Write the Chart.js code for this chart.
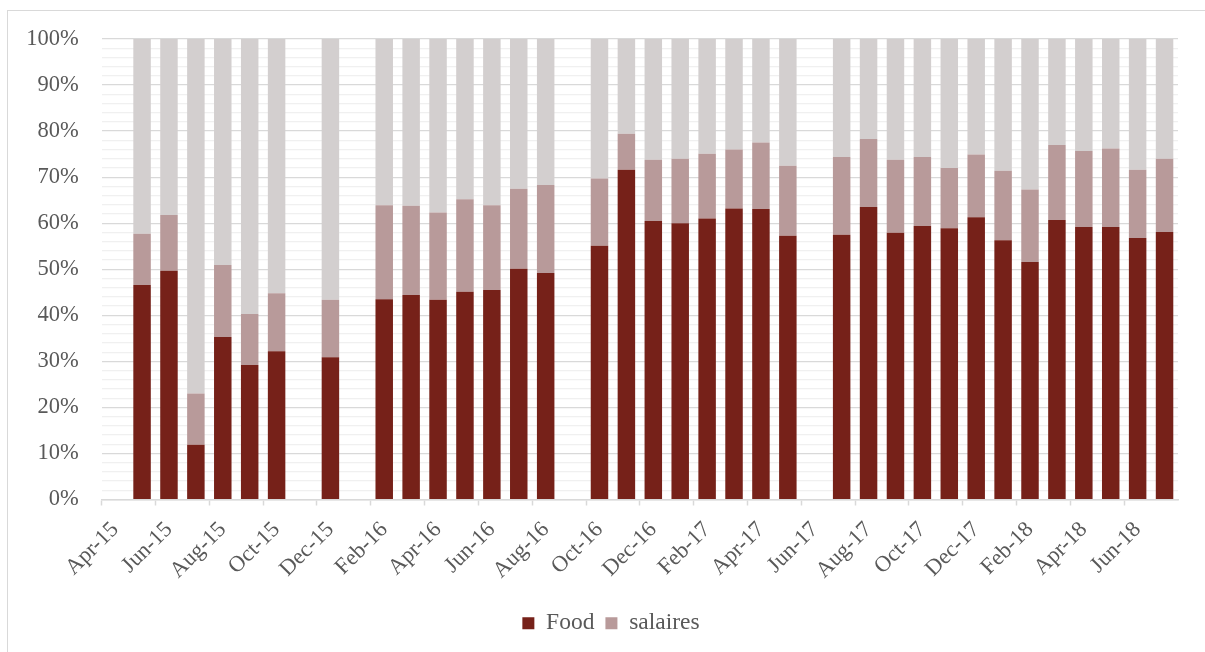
<!DOCTYPE html>
<html>
<head>
<meta charset="utf-8">
<script src="https://cdn.jsdelivr.net/npm/chart.js@4/dist/chart.umd.min.js"></script>
<style>
  html, body { margin: 0; padding: 0; background: #ffffff; }
  #wrap { position: relative; width: 1205px; height: 652px; overflow: hidden; }
  #frame { position: absolute; left: 7px; top: 10px; right: -4px; bottom: -4px;
           border-left: 1.5px solid #d9d9d9; border-top: 1.5px solid #d9d9d9; }
  #c { position: absolute; left: 0; top: 0; }
</style>
</head>
<body>
<div id="wrap">
  <div id="frame"></div>
  <canvas id="c" width="1205" height="652"></canvas>
</div>
<script>
// Monthly categories, Apr-15 to Jul-18
const months = [
  'Apr-15','May-15','Jun-15','Jul-15','Aug-15','Sep-15','Oct-15','Nov-15','Dec-15',
  'Jan-16','Feb-16','Mar-16','Apr-16','May-16','Jun-16','Jul-16','Aug-16','Sep-16','Oct-16','Nov-16','Dec-16',
  'Jan-17','Feb-17','Mar-17','Apr-17','May-17','Jun-17','Jul-17','Aug-17','Sep-17','Oct-17','Nov-17','Dec-17',
  'Jan-18','Feb-18','Mar-18','Apr-18','May-18','Jun-18','Jul-18'
];

// Share of each month's spending (%), months without data are null
const food = [
  null, 46.6, 49.7, 11.9, 35.3, 29.2, 32.2, null, 30.9,
  null, 43.5, 44.4, 43.4, 45.1, 45.5, 50.1, 49.2, null, 55.1, 71.6, 60.5,
  60.0, 61.0, 63.2, 63.1, 57.3, null, 57.5, 63.5, 57.9, 59.4, 58.9, 61.3,
  56.3, 51.6, 60.7, 59.2, 59.2, 56.8, 58.1
];
const salaires = [
  null, 11.1, 12.1, 11.1, 15.6, 11.1, 12.6, null, 12.5,
  null, 20.4, 19.4, 18.9, 20.1, 18.4, 17.4, 19.1, null, 14.6, 7.8, 13.3,
  14.0, 14.1, 12.8, 14.4, 15.2, null, 16.9, 14.8, 15.9, 15.0, 13.1, 13.6,
  15.1, 15.7, 16.3, 16.5, 17.0, 14.8, 15.9
];
const other = [
  null, 42.3, 38.2, 77.0, 49.1, 59.7, 55.2, null, 56.6,
  null, 36.1, 36.2, 37.7, 34.8, 36.1, 32.5, 31.7, null, 30.3, 20.6, 26.2,
  26.0, 24.9, 24.0, 22.5, 27.5, null, 25.6, 21.7, 26.2, 25.6, 28.0, 25.1,
  28.6, 32.7, 23.0, 24.3, 23.8, 28.4, 26.0
];

// Percent tick values on the value axis (labelled every 10)
const percentTicks = [0, 10, 20, 30, 40, 50, 60, 70, 80, 90, 100];

const textColor = '#595959';
const fontFamily = '"Liberation Serif", "Times New Roman", serif';
const gridMajor = '#d9d9d9';
const gridMinor = '#f0f0f0';

// Nudges the legend block sideways so it sits centred under the whole frame
const legendShift = {
  id: 'legendShift',
  afterLayout(chart) {
    const lg = chart.legend;
    if (lg) { lg.left += 22; lg.right += 22; }
  }
};

new Chart(document.getElementById('c'), {
  type: 'bar',
  data: {
    labels: months,
    datasets: [
      { label: 'Food', data: food, backgroundColor: '#762119' },
      { label: 'salaires', data: salaires, backgroundColor: '#b89a9a' },
      { label: 'other', data: other, backgroundColor: '#d3cfcf' }
    ]
  },
  plugins: [legendShift],
  options: {
    responsive: false,
    animation: false,
    devicePixelRatio: 1,
    layout: { padding: { left: 0, top: 39, right: 27, bottom: 7 } },
    datasets: {
      bar: { barPercentage: 0.65, categoryPercentage: 1.0, borderWidth: 0 }
    },
    plugins: {
      tooltip: { enabled: false },
      legend: {
        position: 'bottom',
        labels: {
          boxWidth: 12,
          boxHeight: 12,
          padding: 11,
          color: textColor,
          font: { family: fontFamily, size: 23.5 },
          filter: item => item.datasetIndex < 2
        }
      }
    },
    scales: {
      x: {
        stacked: true,
        offset: true,
        border: { color: gridMajor, width: 1.5 },
        grid: {
          offset: true,
          drawOnChartArea: false,
          drawTicks: true,
          tickLength: 6,
          tickWidth: 1.5,
          tickColor: ctx => (ctx.index % 2 === 0 ? gridMajor : 'rgba(0,0,0,0)')
        },
        ticks: {
          autoSkip: false,
          minRotation: 45,
          maxRotation: 45,
          padding: 11,
          color: textColor,
          font: { family: fontFamily, size: 22.5 },
          callback: (v, i) => (i % 2 === 0 ? months[i] : '')
        },
        afterFit: s => { s.height = 101; }
      },
      y: {
        stacked: true,
        min: 0,
        max: 100,
        border: { display: false },
        grid: {
          drawTicks: false,
          lineWidth: 1.2,
          color: ctx => (percentTicks.includes(ctx.tick.value) ? gridMajor : gridMinor)
        },
        ticks: {
          stepSize: 2,
          autoSkip: false,
          padding: 23,
          color: textColor,
          font: { family: fontFamily, size: 22.5 },
          callback: v => (percentTicks.includes(v) ? v + '%' : '')
        },
        afterFit: s => { s.width = 101.7; }
      }
    }
  }
});
</script>
</body>
</html>
